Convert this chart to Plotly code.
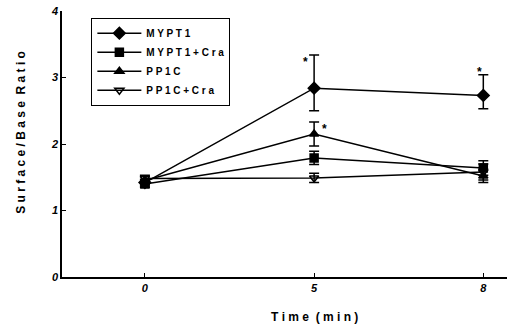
import plotly.graph_objects as go

time_labels = ["0", "5", "8"]
x_pos = [0, 1, 2]

series_names = ["MYPT1", "MYPT1+Cra", "PP1C", "PP1C+Cra"]
mypt1 = [1.42, 2.84, 2.73]
mypt1_cra = [1.40, 1.79, 1.64]
pp1c = [1.45, 2.15, 1.52]
pp1c_cra = [1.48, 1.49, 1.58]

mypt1_err_up = [0.05, 0.50, 0.31]
mypt1_err_dn = [0.05, 0.34, 0.20]
mypt1_cra_err = [0.05, 0.10, 0.11]
pp1c_err = [0.06, 0.18, 0.10]
pp1c_cra_err = [0.05, 0.07, 0.12]

values = [mypt1, mypt1_cra, pp1c, pp1c_cra]
err_up = [mypt1_err_up, mypt1_cra_err, pp1c_err, pp1c_cra_err]
err_dn = [mypt1_err_dn, mypt1_cra_err, pp1c_err, pp1c_cra_err]
symbols = ["diamond", "square", "triangle-up", "triangle-down-open"]
sizes = [9, 8, 8, 8]

legend_labels = ["M Y P T 1", "M Y P T 1 + C r a", "P P 1 C", "P P 1 C + C r a"]

fig = go.Figure()
for name, lab, v, eu, ed, sym, sz in zip(series_names, legend_labels, values, err_up, err_dn, symbols, sizes):
    fig.add_trace(go.Scatter(
        x=x_pos, y=v, name=lab, mode="lines+markers",
        line=dict(color="black", width=1.5),
        marker=dict(symbol=sym, size=sz, color="black", line=dict(color="black", width=1.5)),
        error_y=dict(type="data", symmetric=False, array=eu, arrayminus=ed,
                     color="black", thickness=1.5, width=5),
    ))

bold = "Liberation Sans"
fig.update_layout(
    width=507, height=327,
    margin=dict(l=62, r=0, t=11, b=50),
    plot_bgcolor="white", paper_bgcolor="white",
    showlegend=True,
    legend=dict(x=0.066, y=0.975, xanchor="left", yanchor="top",
                bordercolor="black", borderwidth=1, bgcolor="white",
                font=dict(family=bold, size=10, color="black", weight="bold"),
                tracegroupgap=0, itemwidth=44),
    xaxis=dict(range=[-0.49, 2.14], tickvals=x_pos, ticktext=time_labels,
               showgrid=False, zeroline=False, showline=True, linecolor="black",
               linewidth=1.5, ticks="inside", ticklen=4, tickcolor="black",
               tickfont=dict(family=bold, size=11, color="black", weight="bold", style="italic")),
    yaxis=dict(range=[0, 4], tickvals=[0, 1, 2, 3, 4],
               showgrid=False, zeroline=False, showline=True, linecolor="black",
               linewidth=1.5, ticks="inside", ticklen=4, tickcolor="black",
               tickfont=dict(family=bold, size=11, color="black", weight="bold", style="italic")),
)

fig.add_annotation(text="T i m e  ( m i n )", x=1, y=0, xref="x", yref="paper",
                   yshift=-49, showarrow=False,
                   font=dict(family=bold, size=12, color="black", weight="bold"))
fig.add_annotation(text="S u r f a c e / B a s e  R a t i o", xref="paper", yref="paper",
                   x=0, xshift=-50, y=(277.5 - 133) / 266.5, showarrow=False, textangle=-90,
                   font=dict(family=bold, size=12, color="black", weight="bold"))

stars_x = [0.95, 1.06, 1.98]
stars_y = [3.24, 2.23, 3.09]
for sx, sy in zip(stars_x, stars_y):
    fig.add_annotation(text="*", x=sx, y=sy, xref="x", yref="y", showarrow=False,
                       font=dict(family=bold, size=12, color="black", weight="bold"))

fig.write_html("out.html", config={"displayModeBar": False},
               post_script="document.body.style.margin='0px';")
